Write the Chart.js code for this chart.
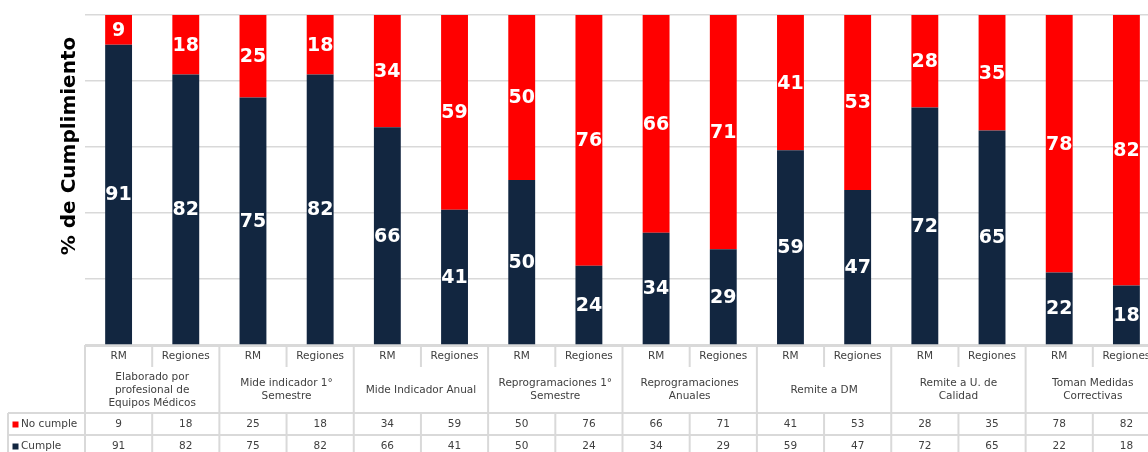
<!DOCTYPE html>
<html>
<head>
<meta charset="utf-8">
<script src="https://cdn.jsdelivr.net/npm/chart.js@4/dist/chart.umd.min.js"></script>
<style>
html,body{margin:0;padding:0;background:#fff;overflow:hidden;width:1148px;height:452px;}
canvas{display:block;}
</style>
</head>
<body>
<canvas id="c" width="1170" height="452"></canvas>
<script>
const subLabels = ["RM","Regiones","RM","Regiones","RM","Regiones","RM","Regiones","RM","Regiones","RM","Regiones","RM","Regiones","RM","Regiones"];
const groupLabels = [
  ["Elaborado por","profesional de","Equipos Médicos"],
  ["Mide indicador 1°","Semestre"],
  ["Mide Indicador Anual"],
  ["Reprogramaciones 1°","Semestre"],
  ["Reprogramaciones","Anuales"],
  ["Remite a DM"],
  ["Remite a U. de","Calidad"],
  ["Toman Medidas","Correctivas"]
];
const noCumple = [9,18,25,18,34,59,50,76,66,71,41,53,28,35,78,82];
const cumple   = [91,82,75,82,66,41,50,24,34,29,59,47,72,65,22,18];
const seriesNames = ["No cumple","Cumple"];
const yTitle = "% de Cumplimiento";

const RED = "#ff0000", NAVY = "#122640", LINE = "#d9d9d9", TXT = "#404040";
const FONT = "DejaVu Sans";

const extras = {
  id: "extras",
  afterDatasetsDraw(chart) {
    const ctx = chart.ctx;
    ctx.save();
    ctx.fillStyle = "#fff";
    ctx.font = "bold 19px '" + FONT + "'";
    ctx.textAlign = "center";
    ctx.textBaseline = "middle";
    chart.data.datasets.forEach((ds, di) => {
      const meta = chart.getDatasetMeta(di);
      meta.data.forEach((el, i) => {
        const v = ds.data[i];
        if (!v) return;
        ctx.fillText(String(v), el.x, (el.y + el.base) / 2 + 1);
      });
    });
    ctx.restore();
  },
  afterDraw(chart) {
    const ctx = chart.ctx;
    const ca = chart.chartArea;
    const xs = chart.scales.x;
    const n = subLabels.length;
    const colW = xs.getPixelForValue(1) - xs.getPixelForValue(0);
    const edge = i => xs.getPixelForValue(0) - colW / 2 + i * colW;
    const y0 = ca.bottom;
    const r1b = y0 + 22, r2b = y0 + 68, r3b = y0 + 90, r4b = y0 + 115;
    const legL = 8;
    ctx.save();
    // y title
    ctx.fillStyle = "#000";
    ctx.font = "bold 20px '" + FONT + "'";
    ctx.textAlign = "center";
    ctx.textBaseline = "middle";
    ctx.translate(ca.left - 15, ca.top + 131);
    ctx.rotate(-Math.PI / 2);
    ctx.fillText(yTitle, 0, 0);
    ctx.setTransform(1, 0, 0, 1, 0, 0);

    // table lines
    ctx.strokeStyle = LINE;
    ctx.lineWidth = 2;
    const hl = (x1, x2, y) => { ctx.beginPath(); ctx.moveTo(x1, y); ctx.lineTo(x2, y); ctx.stroke(); };
    const vl = (x, y1, y2) => { ctx.beginPath(); ctx.moveTo(x, y1); ctx.lineTo(x, y2); ctx.stroke(); };
    hl(edge(0), edge(n), y0 + 1);
    hl(legL, edge(n), r2b);
    hl(legL, edge(n), r3b);
    vl(legL, r2b, r4b);
    for (let i = 0; i <= n; i++) {
      const x = edge(i);
      if (i % 2 === 0) vl(x, y0, r4b);
      else { vl(x, y0, r1b); vl(x, r2b, r4b); }
    }

    // texts
    ctx.fillStyle = TXT;
    ctx.font = "10.5px '" + FONT + "'";
    ctx.textAlign = "center";
    ctx.textBaseline = "middle";
    for (let i = 0; i < n; i++) {
      const cx = xs.getPixelForValue(i);
      ctx.fillText(subLabels[i], cx, y0 + 11);
      ctx.fillText(String(noCumple[i]), cx, r2b + 11.5);
      ctx.fillText(String(cumple[i]), cx, r3b + 11.5);
    }
    groupLabels.forEach((lines, g) => {
      const cx = edge(2 * g + 1);
      const lh = 13;
      const mid = (r1b + r2b) / 2;
      const start = mid - (lines.length - 1) * lh / 2;
      lines.forEach((t, k) => ctx.fillText(t, cx, start + k * lh));
    });
    // legend keys
    ctx.textAlign = "left";
    const legendColors = [RED, NAVY];
    [r2b, r3b].forEach((rt, k) => {
      const cy = rt + 11.5;
      ctx.fillStyle = legendColors[k];
      ctx.fillRect(12.5, cy - 3, 6, 6);
      ctx.fillStyle = TXT;
      ctx.fillText(seriesNames[k], 21, cy);
    });
    ctx.restore();
  }
};

new Chart(document.getElementById("c"), {
  type: "bar",
  data: {
    labels: subLabels,
    datasets: [
      { label: seriesNames[1], data: cumple, backgroundColor: NAVY, barPercentage: 0.4, categoryPercentage: 1 },
      { label: seriesNames[0], data: noCumple, backgroundColor: RED, barPercentage: 0.4, categoryPercentage: 1 }
    ]
  },
  options: {
    responsive: false,
    animation: false,
    devicePixelRatio: 1,
    layout: { padding: { left: 85, top: 15, right: 10, bottom: 107 } },
    plugins: { legend: { display: false }, tooltip: { enabled: false } },
    scales: {
      x: { stacked: true, display: false },
      y: {
        stacked: true, min: 0, max: 100,
        ticks: { display: false, stepSize: 20 },
        grid: { color: LINE, lineWidth: 1.5, drawTicks: false },
        border: { display: false },
        afterFit: s => { s.width = 0; }
      }
    }
  },
  plugins: [extras]
});
</script>
</body>
</html>
